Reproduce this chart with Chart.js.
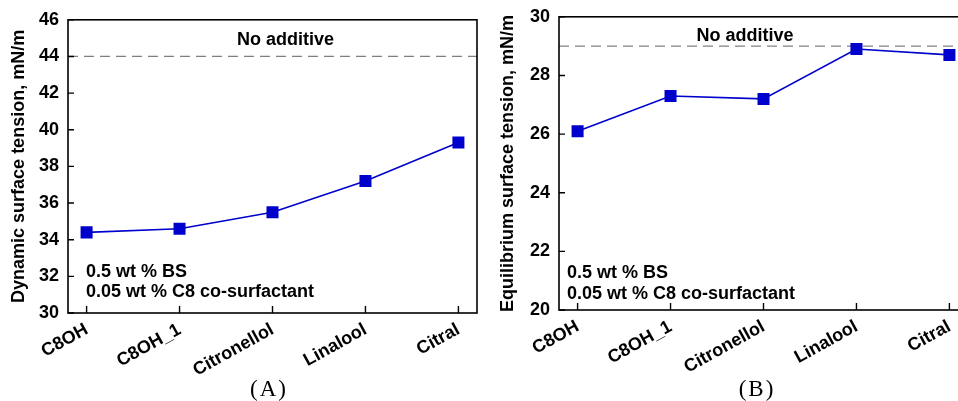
<!DOCTYPE html>
<html>
<head>
<meta charset="utf-8">
<script src="https://cdn.jsdelivr.net/npm/chart.js@4"></script>
<style>
  html, body { margin: 0; padding: 0; background: #fff; }
  body { width: 958px; height: 401px; overflow: hidden; position: relative; }
  .wrap { position: absolute; }
  .cap { position: absolute; font-family: "Liberation Serif", "Times New Roman", serif; font-size: 23px; letter-spacing: 2px; color: #000; transform: translate(-50%, -50%); white-space: nowrap; }
</style>
</head>
<body>
<div class="wrap" style="left:0;top:0;width:486px;height:401px"><canvas id="chartA"></canvas></div>
<div class="wrap" style="left:480px;top:-3px;width:500px;height:404px"><canvas id="chartB"></canvas></div>
<div class="cap" style="left:269px;top:389px">(A)</div>
<div class="cap" style="left:757px;top:389px">(B)</div>
<script>
const categories = ['C8OH', 'C8OH_1', 'Citronellol', 'Linalool', 'Citral'];
const dynamicTension = [34.4, 34.6, 35.5, 37.2, 39.3];
const equilibriumTension = [26.1, 27.3, 27.2, 28.9, 28.7];
const noAdditiveDynamic = 44;
const noAdditiveEquilibrium = 29;
const yTicksA = [30, 32, 34, 36, 38, 40, 42, 44, 46];
const yTicksB = [20, 22, 24, 26, 28, 30];
const titleA = 'Dynamic surface tension, mN/m';
const titleB = 'Equilibrium surface tension, mN/m';
const baselineLabel = 'No additive';
const noteLines = ['0.5 wt % BS', '0.05 wt % C8 co-surfactant'];

const FONT = '"Liberation Sans", Arial, sans-serif';
const BLUE = '#0000CC';

function makeChart(id, values, baseline, yTicks, yTitle, geo) {
  const boxPlugin = {
    id: 'box' + id,
    afterDraw(chart) {
      const ctx = chart.ctx;
      const a = chart.chartArea;
      const xs = chart.scales.x, ys = chart.scales.y;
      ctx.save();
      ctx.strokeStyle = '#000';
      ctx.lineWidth = 1.6;
      ctx.strokeRect(a.left, a.top, a.right - a.left, a.bottom - a.top);
      ctx.lineWidth = 1.4;
      ctx.beginPath();
      xs.ticks.forEach((t, i) => {
        const px = xs.getPixelForTick(i);
        ctx.moveTo(px, a.bottom);
        ctx.lineTo(px, a.bottom - 7);
      });
      ys.ticks.forEach((t, i) => {
        const py = ys.getPixelForTick(i);
        ctx.moveTo(a.left, py);
        ctx.lineTo(a.left + 6, py);
      });
      ctx.stroke();
      ctx.fillStyle = '#000';
      ctx.font = 'bold 18px ' + FONT;
      ctx.textAlign = 'center';
      ctx.textBaseline = 'middle';
      ctx.fillText(baselineLabel, xs.getPixelForValue(geo.labelX), ys.getPixelForValue(baseline) - geo.labelDy);
      ctx.textAlign = 'left';
      ctx.fillText(noteLines[0], a.left + geo.noteDx, a.bottom - geo.noteDy1);
      ctx.fillText(noteLines[1], a.left + geo.noteDx, a.bottom - geo.noteDy2);
      ctx.restore();
    }
  };
  return new Chart(document.getElementById(id), {
    type: 'line',
    data: {
      datasets: [
        {
          data: values.map((v, i) => ({ x: i, y: v })),
          borderColor: BLUE,
          backgroundColor: BLUE,
          borderWidth: 1.6,
          pointStyle: 'rect',
          pointRadius: 8.5,
          pointHoverRadius: 8.5,
          pointBorderWidth: 0,
          tension: 0
        },
        {
          data: [{ x: -0.2, y: baseline }, { x: 4.2, y: baseline }],
          borderColor: '#808080',
          borderWidth: 1.2,
          borderDash: [10, 6],
          pointRadius: 0
        }
      ]
    },
    options: {
      responsive: true,
      maintainAspectRatio: false,
      animation: false,
      events: [],
      layout: { padding: { left: 0, top: geo.top, right: geo.right, bottom: 0 } },
      plugins: { legend: { display: false }, tooltip: { enabled: false } },
      scales: {
        x: {
          type: 'linear',
          min: -0.2,
          max: 4.2,
          afterBuildTicks(s) { s.ticks = categories.map((c, i) => ({ value: i })); },
          afterFit(s) { s.height = geo.xHeight; },
          grid: { display: false, drawTicks: false },
          border: { display: false },
          ticks: {
            callback: (v) => categories[v],
            minRotation: 29, maxRotation: 29,
            color: '#000',
            padding: 6,
            font: { family: FONT, size: 18, weight: 'bold' }
          }
        },
        y: {
          min: yTicks[0],
          max: yTicks[yTicks.length - 1],
          afterBuildTicks(s) { s.ticks = yTicks.map(v => ({ value: v })); },
          afterFit(s) { s.width = geo.yWidth; },
          grid: { display: false, drawTicks: false },
          border: { display: false },
          ticks: {
            color: '#000',
            padding: 9,
            font: { family: FONT, size: 18, weight: 'bold' }
          },
          title: {
            display: true,
            text: yTitle,
            color: '#000',
            padding: { top: geo.titlePad, bottom: 0 },
            font: { family: FONT, size: 18, weight: 'bold' }
          }
        }
      }
    },
    plugins: [boxPlugin]
  });
}

makeChart('chartA', dynamicTension, noAdditiveDynamic, yTicksA, titleA,
  { top: 19, right: 9, xHeight: 88, yWidth: 68, titlePad: 8, labelX: 2.14, labelDy: 16, noteDx: 18, noteDy1: 41, noteDy2: 21 });
makeChart('chartB', equilibriumTension, noAdditiveEquilibrium, yTicksB, titleB,
  { top: 14, right: 12, xHeight: 91, yWidth: 79, titlePad: 17, labelX: 1.8, labelDy: 10, noteDx: 8, noteDy1: 37, noteDy2: 16 });
</script>
</body>
</html>
